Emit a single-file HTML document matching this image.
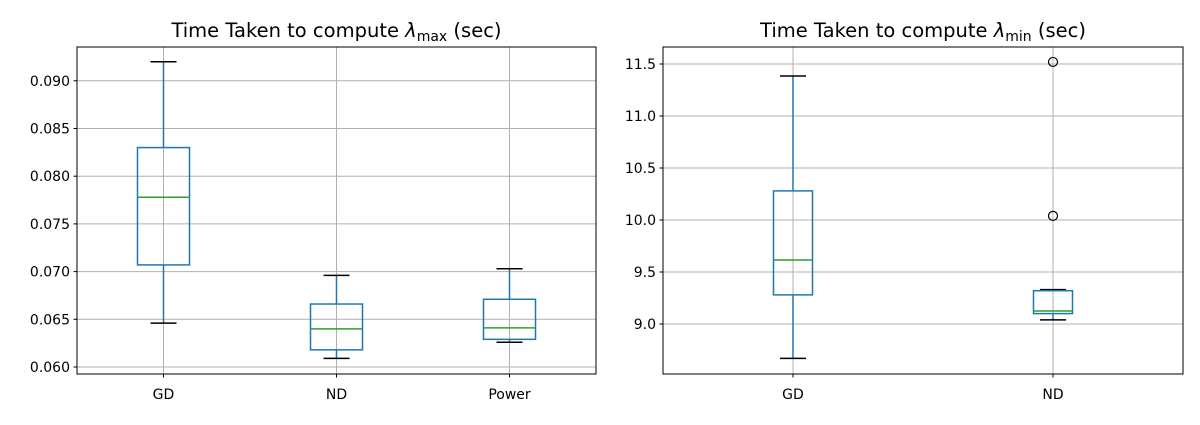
<!DOCTYPE html>
<html><head><meta charset="utf-8"><style>
body{margin:0;background:#fff;font-family:"Liberation Sans","DejaVu Sans",sans-serif}
svg text{font-family:"DejaVu Sans","Liberation Sans",sans-serif}
</style></head><body>
<svg id="c" width="1200" height="420" xmlns="http://www.w3.org/2000/svg"></svg>
<script>
const catsL=["GD","ND","Power"];
const whiskHiL=[0.0920,0.0696,0.0703];
const q3L=[0.0830,0.0666,0.0671];
const medL=[0.0778,0.0640,0.0641];
const q1L=[0.0707,0.0618,0.0629];
const whiskLoL=[0.0646,0.0609,0.0626];
const outL=[[],[],[]];
const ticksL=[0.060,0.065,0.070,0.075,0.080,0.085,0.090];
const catsR=["GD","ND"];
const whiskHiR=[11.385,9.33];
const q3R=[10.28,9.32];
const medR=[9.615,9.125];
const q1R=[9.28,9.10];
const whiskLoR=[8.67,9.04];
const outR=[[],[11.52,10.04]];
const ticksR=[9.0,9.5,10.0,10.5,11.0,11.5];
const svg=document.getElementById('c');
const NS="http://www.w3.org/2000/svg";
function mk(t,a,p){const e=document.createElementNS(NS,t);for(const k in a)e.setAttribute(k,a[k]);(p||svg).appendChild(e);return e;}
function panel(cfg){
 const {x0,x1,y0,y1,vmin,vmax,cats,hi,q3,md,q1,lo,out,ticks,fmt,bw,title,sub,name}=cfg;
 const g=mk('g',{});
 
 
 const y=v=>y1-(v-vmin)/(vmax-vmin)*(y1-y0);
 const n=cats.length;const x=i=>x0+(i+0.5)*(x1-x0)/n;
 ticks.forEach(t=>{
  const l=mk('line',{x1:x0,x2:x1,y1:y(t),y2:y(t),stroke:'#b0b0b0','stroke-width':1},g);
  
  mk('line',{x1:x0-3.5,x2:x0,y1:y(t),y2:y(t),stroke:'#000'},g);
  const tx=mk('text',{x:x0-7,y:y(t)+5,'text-anchor':'end','font-size':14},g);tx.textContent=fmt(t);
  
 });
 cats.forEach((c,i)=>{
  mk('line',{x1:x(i),x2:x(i),y1:y0,y2:y1,stroke:'#b0b0b0'},g);
 });
 cats.forEach((c,i)=>{
  const b=mk('g',{},g);
  
  
  const cx=x(i),col='#1f77b4';
  mk('line',{x1:cx,x2:cx,y1:y(q3[i]),y2:y(hi[i]),stroke:col,'stroke-width':1.5},b);
  mk('line',{x1:cx,x2:cx,y1:y(q1[i]),y2:y(lo[i]),stroke:col,'stroke-width':1.5},b);
  mk('line',{x1:cx-13,x2:cx+13,y1:y(hi[i]),y2:y(hi[i]),stroke:'#000','stroke-width':1.5},b);
  mk('line',{x1:cx-13,x2:cx+13,y1:y(lo[i]),y2:y(lo[i]),stroke:'#000','stroke-width':1.5},b);
  mk('rect',{x:cx-bw/2,y:y(q3[i]),width:bw,height:y(q1[i])-y(q3[i]),fill:'none',stroke:col,'stroke-width':1.5},b);
  mk('line',{x1:cx-bw/2,x2:cx+bw/2,y1:y(md[i]),y2:y(md[i]),stroke:'#2ca02c','stroke-width':1.5},b);
  out[i].forEach(v=>{const o=mk('circle',{cx:cx,cy:y(v),r:4.5,fill:'none',stroke:'#000','stroke-width':1.2},b);
   });
  mk('line',{x1:cx,x2:cx,y1:y1,y2:y1+3.5,stroke:'#000'},g);
  const t=mk('text',{x:cx,y:y1+25,'text-anchor':'middle','font-size':14},g);t.textContent=c;
  
 });
 mk('rect',{x:x0,y:y0,width:x1-x0,height:y1-y0,fill:'none',stroke:'#000','stroke-width':1},g);
 const tt=mk('text',{x:(x0+x1)/2,y:y0-10,'text-anchor':'middle','font-size':19.5},g);
 
 tt.innerHTML='Time Taken to compute <tspan font-style="italic">λ</tspan><tspan font-size="14" dy="4">'+sub+'</tspan><tspan dy="-4"> (sec)</tspan>';
}
panel({x0:77,x1:596,y0:47,y1:374,vmin:0.060-(374-367)/9540,vmax:0.060+(367-47)/9540,cats:catsL,hi:whiskHiL,q3:q3L,md:medL,q1:q1L,lo:whiskLoL,out:outL,ticks:ticksL,fmt:t=>t.toFixed(3),bw:52,sub:'max',name:'panel-lambda-max'});
panel({x0:663,x1:1183,y0:47,y1:374,vmin:9.0-(374-324)/104,vmax:9.0+(324-47)/104,cats:catsR,hi:whiskHiR,q3:q3R,md:medR,q1:q1R,lo:whiskLoR,out:outR,ticks:ticksR,fmt:t=>t.toFixed(1),bw:39,sub:'min',name:'panel-lambda-min'});
</script>
</body></html>
